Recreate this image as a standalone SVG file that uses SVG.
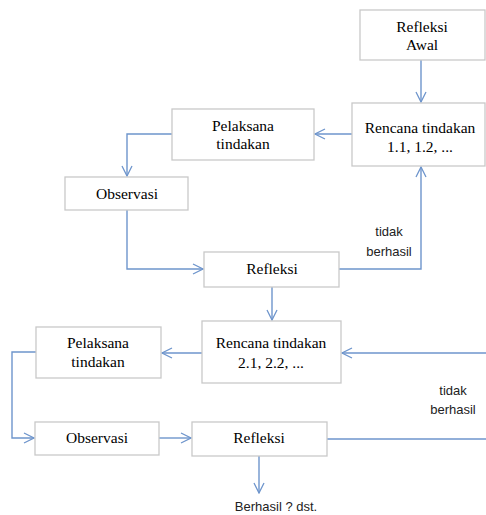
<svg xmlns="http://www.w3.org/2000/svg" width="486" height="515" viewBox="0 0 486 515">
<defs>
<style>
.box{fill:#fff;stroke:#c9c9c9;stroke-width:1.3}
.lbl{font-family:"Liberation Serif","Times New Roman",serif;font-size:15.5px;fill:#000;text-anchor:middle}
.note{font-family:"Liberation Sans",Arial,sans-serif;font-size:13px;fill:#222;text-anchor:middle}
.con{fill:none;stroke:#6e95cc;stroke-width:1.4}
</style>
<marker id="ah" viewBox="0 0 12 12" refX="11" refY="6" markerWidth="12" markerHeight="12" markerUnits="userSpaceOnUse" orient="auto">
<path d="M1,1 L11,6 L1,11" fill="none" stroke="#6e95cc" stroke-width="1.3"/>
</marker>
</defs>
<rect width="486" height="515" fill="#fff"/>
<g id="connectors">
<path class="con" d="M421,60 V102" marker-end="url(#ah)"/>
<path class="con" d="M352,134 H315" marker-end="url(#ah)"/>
<path class="con" d="M172,134 H127 V176" marker-end="url(#ah)"/>
<path class="con" d="M127,210 V269 H203" marker-end="url(#ah)"/>
<path class="con" d="M339,269 H421 V167" marker-end="url(#ah)"/>
<path class="con" d="M272,287 V320" marker-end="url(#ah)"/>
<path class="con" d="M202,353 H162" marker-end="url(#ah)"/>
<path class="con" d="M486,353 H342" marker-end="url(#ah)"/>
<path class="con" d="M36,352 H12 V438 H34" marker-end="url(#ah)"/>
<path class="con" d="M159,438 H191" marker-end="url(#ah)"/>
<path class="con" d="M327,439 H486"/>
<path class="con" d="M259,456 V493" marker-end="url(#ah)"/>
</g>
<g id="refleksi-awal">
<rect class="box" x="360" y="10" width="125" height="50"/>
<text class="lbl" x="422" y="32">Refleksi</text>
<text class="lbl" x="422" y="50">Awal</text>
</g>
<g id="rencana-1">
<rect class="box" x="352" y="103" width="133" height="63"/>
<text class="lbl" x="420" y="133">Rencana tindakan</text>
<text class="lbl" x="420" y="152">1.1, 1.2, ...</text>
</g>
<g id="pelaksana-1">
<rect class="box" x="172" y="109" width="142" height="51"/>
<text class="lbl" x="243" y="131">Pelaksana</text>
<text class="lbl" x="243" y="149">tindakan</text>
</g>
<g id="observasi-1">
<rect class="box" x="65" y="177" width="123" height="33"/>
<text class="lbl" x="127" y="199">Observasi</text>
</g>
<g id="refleksi-1">
<rect class="box" x="204" y="252" width="135" height="35"/>
<text class="lbl" x="272" y="274">Refleksi</text>
</g>
<g id="tidak-berhasil-1">
<text class="note" x="389" y="236">tidak</text>
<text class="note" x="389" y="256">berhasil</text>
</g>
<g id="rencana-2">
<rect class="box" x="202" y="321" width="139" height="62"/>
<text class="lbl" x="271" y="348">Rencana tindakan</text>
<text class="lbl" x="271" y="368">2.1, 2.2, ...</text>
</g>
<g id="pelaksana-2">
<rect class="box" x="36" y="327" width="125" height="51"/>
<text class="lbl" x="98" y="348">Pelaksana</text>
<text class="lbl" x="98" y="367">tindakan</text>
</g>
<g id="observasi-2">
<rect class="box" x="35" y="422" width="124" height="33"/>
<text class="lbl" x="97" y="443">Observasi</text>
</g>
<g id="refleksi-2">
<rect class="box" x="192" y="422" width="135" height="34"/>
<text class="lbl" x="259" y="443">Refleksi</text>
</g>
<g id="tidak-berhasil-2">
<text class="note" x="453" y="395">tidak</text>
<text class="note" x="453" y="414">berhasil</text>
</g>
<g id="berhasil">
<text class="note" x="276" y="511">Berhasil ? dst.</text>
</g>
</svg>
